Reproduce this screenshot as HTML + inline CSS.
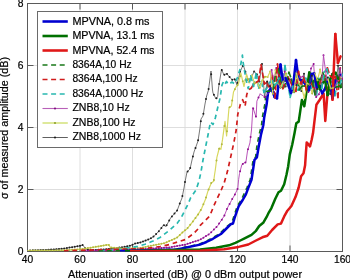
<!DOCTYPE html><html><head><meta charset="utf-8"><style>html,body{margin:0;padding:0;background:#fff;width:350px;height:280px;overflow:hidden}svg{display:block;will-change:transform}text{font-family:"Liberation Sans",sans-serif;fill:#000;stroke:#000;stroke-width:0.2px}</style></head><body><svg width="350" height="280" viewBox="0 0 350 280"><path d="M80.0 3.5V251.5 M132.5 3.5V251.5 M185.0 3.5V251.5 M237.5 3.5V251.5 M290.0 3.5V251.5 M27.5 189.5H342.5 M27.5 127.5H342.5 M27.5 65.5H342.5" stroke="#dadada" stroke-width="0.9" fill="none"/><path d="M80.0 251.5v-6M80.0 3.5v6 M132.5 251.5v-6M132.5 3.5v6 M185.0 251.5v-6M185.0 3.5v6 M237.5 251.5v-6M237.5 3.5v6 M290.0 251.5v-6M290.0 3.5v6 M27.5 189.5h6M342.5 189.5h-6 M27.5 127.5h6M342.5 127.5h-6 M27.5 65.5h6M342.5 65.5h-6" stroke="#5a5a5a" stroke-width="1" fill="none"/><rect x="27.5" y="3.5" width="315" height="248" stroke="#5a5a5a" stroke-width="1" fill="none"/><defs><clipPath id="cp"><rect x="27" y="3" width="316" height="248.6"/></clipPath></defs><g clip-path="url(#cp)" fill="none" stroke-linejoin="round"><path d="M27.5 250.5 L45.0 250.0 L63.0 248.7 L79.2 246.0 L82.8 245.1 L86.4 249.6 L90.0 250.2 L105.2 249.3 L122.3 247.3 L131.0 245.5 L135.0 243.6 L140.0 242.5 L145.0 240.8 L150.0 238.8 L154.0 236.3 L159.5 230.5 L163.5 224.9 L165.9 226.5 L170.8 217.7 L175.0 212.9 L177.1 210.7 L180.0 202.9 L182.0 198.0 L184.0 188.0 L185.0 182.0 L187.0 172.0 L190.0 169.0 L192.0 160.0 L194.0 152.0 L198.0 141.0 L200.0 128.0 L201.0 119.0 L203.0 116.0 L205.0 104.0 L206.6 96.0 L208.5 90.0 L211.0 71.0 L212.5 90.0 L213.0 93.0 L216.0 99.0 L217.7 96.4 L218.5 88.0 L221.5 69.5 L224.0 75.0 L226.5 73.5 L230.0 77.5 L232.5 80.0 L234.5 78.5 L237.0 85.0 L240.0 72.0 L243.2 64.9 L248.9 82.6 L251.5 77.1" stroke="#555555" stroke-width="0.8"/><path d="M30.1 250.4h0M32.8 250.3h0M35.4 250.3h0M38.0 250.2h0M40.6 250.1h0M43.2 250.1h0M45.9 249.9h0M48.5 249.7h0M51.1 249.6h0M53.8 249.4h0M56.4 249.2h0M59.0 249.0h0M61.6 248.8h0M64.2 248.5h0M66.9 248.1h0M69.5 247.6h0M72.1 247.2h0M74.8 246.7h0M77.4 246.3h0M80.0 245.8h0M82.6 245.1h0M85.2 248.2h0M87.9 249.8h0M90.5 250.2h0M93.1 250.0h0M95.8 249.9h0M98.4 249.7h0M101.0 249.5h0M103.6 249.4h0M106.2 249.2h0M108.9 248.9h0M111.5 248.6h0M114.1 248.3h0M116.8 247.9h0M119.4 247.6h0M122.0 247.3h0M124.6 246.8h0M127.2 246.3h0M129.9 245.7h0M132.5 244.8h0M135.1 243.6h0M137.8 243.0h0M140.4 242.4h0M143.0 241.5h0M145.6 240.6h0M148.2 239.5h0M150.9 238.3h0M153.5 236.6h0M156.1 234.1h0M158.8 231.3h0M161.4 227.9h0M164.0 225.2h0M166.6 225.2h0M169.2 220.5h0M171.9 216.5h0M174.5 213.5h0M177.1 210.6h0M179.8 203.6h0M182.4 196.1h0M185.0 182.0h0M187.6 171.4h0M190.2 167.9h0M192.9 156.5h0M195.5 147.9h0M198.1 140.2h0M200.8 121.2h0M203.4 113.8h0M206.0 99.0h0M208.6 89.0h0M211.2 74.2h0M213.9 94.8h0M216.5 98.2h0M219.1 84.1h0M221.8 70.0h0M224.4 74.8h0M227.0 74.1h0M229.6 77.1h0M232.2 79.8h0M234.9 79.5h0M237.5 82.8h0M240.1 71.7h0M242.8 65.9h0M245.4 71.7h0M248.0 79.8h0M250.6 78.9h0" stroke="#202020" stroke-width="2" stroke-linecap="round"/><path d="M27.5 250.5 L63.0 250.3 L81.0 249.2 L90.0 247.8 L98.3 246.4 L108.6 244.7 L110.3 247.3 L122.3 248.5 L140.0 248.0 L150.0 246.0 L165.0 243.0 L177.2 237.5 L183.6 231.4 L186.9 228.9 L190.7 224.3 L193.3 220.9 L198.1 214.4 L201.6 208.6 L205.6 199.0 L208.0 190.9 L211.3 182.9 L213.7 181.3 L214.5 175.0 L215.3 170.0 L216.9 157.4 L219.3 148.0 L220.9 149.3 L222.5 139.7 L225.0 121.4 L226.6 136.0 L229.0 107.7 L231.4 106.1 L233.5 92.0 L236.1 86.8 L238.4 84.2 L240.8 73.0 L244.0 86.5 L246.6 74.3 L249.2 83.0 L251.8 74.8" stroke="#d8d860" stroke-width="1.2"/><path d="M30.1 250.5h0M32.8 250.5h0M35.4 250.5h0M38.0 250.4h0M40.6 250.4h0M43.2 250.4h0M45.9 250.4h0M48.5 250.4h0M51.1 250.4h0M53.8 250.4h0M56.4 250.3h0M59.0 250.3h0M61.6 250.3h0M64.2 250.2h0M66.9 250.1h0M69.5 249.9h0M72.1 249.7h0M74.8 249.6h0M77.4 249.4h0M80.0 249.3h0M82.6 248.9h0M85.2 248.5h0M87.9 248.1h0M90.5 247.7h0M93.1 247.3h0M95.8 246.8h0M98.4 246.4h0M101.0 246.0h0M103.6 245.5h0M106.2 245.1h0M108.9 245.1h0M111.5 247.4h0M114.1 247.7h0M116.8 247.9h0M119.4 248.2h0M122.0 248.5h0M124.6 248.4h0M127.2 248.4h0M129.9 248.3h0M132.5 248.2h0M135.1 248.1h0M137.8 248.1h0M140.4 247.9h0M143.0 247.4h0M145.6 246.9h0M148.2 246.3h0M150.9 245.8h0M153.5 245.3h0M156.1 244.8h0M158.8 244.2h0M161.4 243.7h0M164.0 243.2h0M166.6 242.3h0M169.2 241.1h0M171.9 239.9h0M174.5 238.7h0M177.1 237.5h0M179.8 235.1h0M182.4 232.6h0M185.0 230.3h0M187.6 228.0h0M190.2 224.8h0M192.9 221.5h0M195.5 217.9h0M198.1 214.4h0M200.8 210.0h0M203.4 204.3h0M206.0 197.6h0M208.6 189.4h0M211.2 183.0h0M213.9 179.9h0M216.5 160.6h0M219.1 148.7h0M221.8 144.2h0M224.4 126.0h0M227.0 131.3h0M229.6 107.3h0M232.2 100.4h0M234.9 89.3h0M237.5 85.2h0M240.1 76.2h0M242.8 81.3h0M245.4 80.0h0M248.0 79.0h0M250.6 78.7h0" stroke="#b0b840" stroke-width="2" stroke-linecap="round"/><path d="M85.0 250.8 L110.0 250.3 L145.0 249.0 L169.2 247.4 L185.3 244.6 L193.3 242.0 L200.0 239.8 L203.2 237.8 L209.7 233.8 L217.7 225.7 L224.2 216.0 L227.4 208.0 L231.4 200.6 L234.6 195.0 L237.8 188.5 L238.6 179.7 L239.5 173.5 L241.9 164.6 L244.0 163.0 L245.9 162.2 L247.5 151.0 L249.9 142.9 L251.5 130.0 L252.9 107.5 L256.1 117.2 L256.9 101.1 L260.1 93.9" stroke="#b040b0" stroke-width="0.9"/><path d="M85.2 250.8h0M87.9 250.7h0M90.5 250.7h0M93.1 250.6h0M95.8 250.6h0M98.4 250.5h0M101.0 250.5h0M103.6 250.4h0M106.2 250.4h0M108.9 250.3h0M111.5 250.2h0M114.1 250.1h0M116.8 250.0h0M119.4 250.0h0M122.0 249.9h0M124.6 249.8h0M127.2 249.7h0M129.9 249.6h0M132.5 249.5h0M135.1 249.4h0M137.8 249.3h0M140.4 249.2h0M143.0 249.1h0M145.6 249.0h0M148.2 248.8h0M150.9 248.6h0M153.5 248.4h0M156.1 248.3h0M158.8 248.1h0M161.4 247.9h0M164.0 247.7h0M166.6 247.6h0M169.2 247.4h0M171.9 246.9h0M174.5 246.5h0M177.1 246.0h0M179.8 245.6h0M182.4 245.1h0M185.0 244.7h0M187.6 243.8h0M190.2 243.0h0M192.9 242.1h0M195.5 241.3h0M198.1 240.4h0M200.8 239.3h0M203.4 237.7h0M206.0 236.1h0M208.6 234.5h0M211.2 232.2h0M213.9 229.6h0M216.5 226.9h0M219.1 223.6h0M221.8 219.7h0M224.4 215.6h0M227.0 209.0h0M229.6 203.9h0M232.2 199.1h0M234.9 194.4h0M237.5 189.1h0M240.1 171.2h0M242.8 164.0h0M245.4 162.4h0M248.0 149.3h0M250.6 137.1h0M253.2 108.6h0M255.9 116.5h0M258.5 97.5h0" stroke="#901090" stroke-width="2" stroke-linecap="round"/><path d="M100.0 250.8 L115.0 250.0 L130.9 247.5 L137.7 246.4 L145.0 244.2 L153.0 241.0 L160.0 237.5 L169.2 230.5 L177.2 223.3 L181.2 217.7 L184.5 211.2 L188.6 202.9 L190.5 198.0 L196.0 190.0 L199.0 181.0 L201.0 172.0 L203.0 160.0 L205.0 150.0 L208.0 135.0 L210.5 122.0 L213.0 124.5 L215.3 118.0 L217.7 107.7 L220.1 98.0 L222.0 85.0 L223.5 81.5 L225.0 84.0 L226.5 81.5 L228.5 84.5 L232.0 82.0 L234.6 84.0 L237.2 78.0 L239.8 70.0 L242.4 55.2 L243.0 61.7 L245.6 77.3 L248.2 88.6 L250.8 75.9" stroke="#28b8b0" stroke-width="1.7" stroke-dasharray="4.6 3.8"/><path d="M64.0 250.8 L145.0 248.5 L160.0 246.5 L169.2 244.6 L185.3 239.6 L193.3 233.8 L198.1 228.9 L200.0 225.7 L204.8 220.9 L209.7 216.0 L213.7 206.2 L216.9 199.0 L220.9 190.9 L224.2 182.9 L227.4 171.6 L230.6 157.4 L233.8 142.9 L236.2 130.0 L237.8 114.2 L240.3 104.5 L242.7 99.7 L245.1 106.1 L246.7 94.8 L248.3 90.0 L251.3 88.2" stroke="#d01c1c" stroke-width="1.7" stroke-dasharray="4.6 3.8"/><path d="M98.7 251.1 L175.7 249.3 L198.7 244.4 L205.1 241.6 L211.6 238.4 L219.6 233.6 L226.1 227.1 L231.7 223.0 L237.3 206.0 L241.4 199.6 L247.0 187.5 L250.2 179.5 L253.2 159.5 L255.6 157.0 L256.7 147.5 L259.1 134.7 L261.5 125.0 L262.4 117.2 L264.8 104.3 L266.4 91.4" stroke="#187818" stroke-width="1.6" stroke-dasharray="4.6 3.8"/><path d="M120.0 251.2 L177.0 249.5 L200.0 244.6 L206.4 242.0 L212.9 238.8 L220.9 234.0 L227.4 227.5 L230.6 224.3 L233.0 223.5 L234.6 217.9 L238.6 206.4 L242.7 200.0 L245.9 194.4 L248.3 187.9 L251.5 179.9 L253.0 170.0 L254.5 159.8 L256.9 157.4 L258.5 147.7 L260.9 134.9 L263.3 125.2 L264.2 117.4 L266.6 104.5 L268.2 91.6" stroke="#0000d0" stroke-width="2.5"/><path d="M125.0 251.3 L200.0 249.6 L216.1 247.8 L229.0 245.3 L235.4 242.9 L240.3 240.5 L245.1 238.1 L251.5 234.9 L256.0 230.8 L259.2 226.0 L263.2 222.8 L266.5 217.2 L268.9 212.3 L271.3 208.3 L275.3 198.7 L278.5 192.3 L281.0 190.7 L284.2 184.2 L286.6 174.2 L288.2 166.2 L289.8 154.4 L292.2 144.7 L294.5 133.2 L296.3 123.2 L298.7 121.6 L301.9 99.9 L304.3 106.3 L306.7 90.2" stroke="#007000" stroke-width="2.5"/><path d="M130.0 251.2 L200.0 250.8 L224.2 249.3 L238.6 246.9 L248.3 244.5 L256.0 240.5 L262.4 237.3 L267.3 235.7 L272.1 230.0 L277.7 224.4 L281.0 223.6 L284.2 216.4 L287.4 210.7 L289.5 208.3 L291.4 206.0 L295.5 197.1 L298.7 187.5 L301.1 176.3 L303.5 173.3 L305.1 165.3 L305.9 152.8 L306.7 142.4 L310.0 146.4 L311.6 140.0 L313.0 133.3 L316.4 104.8 L319.6 100.0 L323.6 93.5 L325.3 120.9 L327.7 90.3" stroke="#e01818" stroke-width="2.5"/><path d="M300.7 83.8L303.4 78.4" stroke="#28b8b0" stroke-width="1.7" stroke-linecap="round" stroke-dasharray="4.6 3.8"/><path d="M301.4 90.9L304.0 73.8" stroke="#555555" stroke-width="0.8" stroke-linecap="round"/><path d="M304.0 73.8h0" stroke="#202020" stroke-width="2" stroke-linecap="round"/><path d="M269.9 86.3L272.5 82.1" stroke="#555555" stroke-width="0.8" stroke-linecap="round"/><path d="M272.5 82.1h0" stroke="#202020" stroke-width="2" stroke-linecap="round"/><path d="M317.5 80.3L320.1 69.6" stroke="#d8d860" stroke-width="1.2" stroke-linecap="round"/><path d="M320.1 69.6h0" stroke="#b0b840" stroke-width="2" stroke-linecap="round"/><path d="M316.9 87.4L319.5 85.8" stroke="#0000d0" stroke-width="2.5" stroke-linecap="round"/><path d="M256.8 74.2L259.4 81.4" stroke="#555555" stroke-width="0.8" stroke-linecap="round"/><path d="M259.4 81.4h0" stroke="#202020" stroke-width="2" stroke-linecap="round"/><path d="M329.4 80.0L332.0 73.9" stroke="#b040b0" stroke-width="0.9" stroke-linecap="round"/><path d="M332.0 73.9h0" stroke="#901090" stroke-width="2" stroke-linecap="round"/><path d="M297.9 82.4L300.5 77.2" stroke="#b040b0" stroke-width="0.9" stroke-linecap="round"/><path d="M300.5 77.2h0" stroke="#901090" stroke-width="2" stroke-linecap="round"/><path d="M328.2 87.7L330.9 91.2" stroke="#187818" stroke-width="1.6" stroke-linecap="round" stroke-dasharray="4.6 3.8"/><path d="M272.3 75.2L274.9 98.0" stroke="#d01c1c" stroke-width="1.7" stroke-linecap="round" stroke-dasharray="4.6 3.8"/><path d="M322.4 83.0L325.1 80.6" stroke="#007000" stroke-width="2.5" stroke-linecap="round"/><path d="M306.0 78.3L308.6 83.5" stroke="#28b8b0" stroke-width="1.7" stroke-linecap="round" stroke-dasharray="4.6 3.8"/><path d="M330.3 81.9L332.5 99.7" stroke="#e01818" stroke-width="2.5" stroke-linecap="round"/><path d="M332.0 73.9L334.6 87.1" stroke="#b040b0" stroke-width="0.9" stroke-linecap="round"/><path d="M334.6 87.1h0" stroke="#901090" stroke-width="2" stroke-linecap="round"/><path d="M253.9 83.5L256.5 82.3" stroke="#d01c1c" stroke-width="1.7" stroke-linecap="round" stroke-dasharray="4.6 3.8"/><path d="M292.9 86.2L295.5 72.8" stroke="#28b8b0" stroke-width="1.7" stroke-linecap="round" stroke-dasharray="4.6 3.8"/><path d="M324.8 79.9L327.4 67.9" stroke="#d01c1c" stroke-width="1.7" stroke-linecap="round" stroke-dasharray="4.6 3.8"/><path d="M300.5 77.2L303.1 76.4" stroke="#b040b0" stroke-width="0.9" stroke-linecap="round"/><path d="M303.1 76.4h0" stroke="#901090" stroke-width="2" stroke-linecap="round"/><path d="M335.2 80.5L337.9 77.0" stroke="#0000d0" stroke-width="2.5" stroke-linecap="round"/><path d="M330.3 79.0L332.9 73.7" stroke="#007000" stroke-width="2.5" stroke-linecap="round"/><path d="M254.5 83.5L257.1 82.0" stroke="#d8d860" stroke-width="1.2" stroke-linecap="round"/><path d="M257.1 82.0h0" stroke="#b0b840" stroke-width="2" stroke-linecap="round"/><path d="M285.4 81.0L288.0 77.0" stroke="#d01c1c" stroke-width="1.7" stroke-linecap="round" stroke-dasharray="4.6 3.8"/><path d="M335.3 76.8L337.9 97.5" stroke="#d01c1c" stroke-width="1.7" stroke-linecap="round" stroke-dasharray="4.6 3.8"/><path d="M290.0 79.6L292.6 89.3" stroke="#b040b0" stroke-width="0.9" stroke-linecap="round"/><path d="M292.6 89.3h0" stroke="#901090" stroke-width="2" stroke-linecap="round"/><path d="M285.0 65.5L287.6 82.2" stroke="#28b8b0" stroke-width="1.7" stroke-linecap="round" stroke-dasharray="4.6 3.8"/><path d="M316.2 97.1L318.9 94.3" stroke="#b040b0" stroke-width="0.9" stroke-linecap="round"/><path d="M318.9 94.3h0" stroke="#901090" stroke-width="2" stroke-linecap="round"/><path d="M314.3 90.2L316.9 80.0" stroke="#d01c1c" stroke-width="1.7" stroke-linecap="round" stroke-dasharray="4.6 3.8"/><path d="M295.5 72.8L298.1 90.1" stroke="#28b8b0" stroke-width="1.7" stroke-linecap="round" stroke-dasharray="4.6 3.8"/><path d="M296.1 85.1L298.8 85.1" stroke="#555555" stroke-width="0.8" stroke-linecap="round"/><path d="M298.8 85.1h0" stroke="#202020" stroke-width="2" stroke-linecap="round"/><path d="M313.9 81.9L316.5 94.8" stroke="#28b8b0" stroke-width="1.7" stroke-linecap="round" stroke-dasharray="4.6 3.8"/><path d="M259.4 81.4L262.0 64.0" stroke="#555555" stroke-width="0.8" stroke-linecap="round"/><path d="M262.0 64.0h0" stroke="#202020" stroke-width="2" stroke-linecap="round"/><path d="M304.6 85.9L307.2 87.9" stroke="#187818" stroke-width="1.6" stroke-linecap="round" stroke-dasharray="4.6 3.8"/><path d="M317.1 89.1L319.8 82.8" stroke="#555555" stroke-width="0.8" stroke-linecap="round"/><path d="M319.8 82.8h0" stroke="#202020" stroke-width="2" stroke-linecap="round"/><path d="M311.6 74.0L314.2 73.4" stroke="#0000d0" stroke-width="2.5" stroke-linecap="round"/><path d="M298.1 90.1L300.7 83.8" stroke="#28b8b0" stroke-width="1.7" stroke-linecap="round" stroke-dasharray="4.6 3.8"/><path d="M269.6 90.2L272.3 75.2" stroke="#d01c1c" stroke-width="1.7" stroke-linecap="round" stroke-dasharray="4.6 3.8"/><path d="M325.4 77.7L328.0 79.0" stroke="#d8d860" stroke-width="1.2" stroke-linecap="round"/><path d="M328.0 79.0h0" stroke="#b0b840" stroke-width="2" stroke-linecap="round"/><path d="M335.9 86.0L338.5 80.7" stroke="#d8d860" stroke-width="1.2" stroke-linecap="round"/><path d="M338.5 80.7h0" stroke="#b0b840" stroke-width="2" stroke-linecap="round"/><path d="M312.2 93.6L314.9 73.4" stroke="#d8d860" stroke-width="1.2" stroke-linecap="round"/><path d="M314.9 73.4h0" stroke="#b0b840" stroke-width="2" stroke-linecap="round"/><path d="M337.5 80.3L340.1 84.6" stroke="#28b8b0" stroke-width="1.7" stroke-linecap="round" stroke-dasharray="4.6 3.8"/><path d="M327.4 67.9L330.0 75.7" stroke="#d01c1c" stroke-width="1.7" stroke-linecap="round" stroke-dasharray="4.6 3.8"/><path d="M276.3 68.1L279.5 81.1" stroke="#b040b0" stroke-width="0.9" stroke-linecap="round"/><path d="M279.5 81.1h0" stroke="#901090" stroke-width="2" stroke-linecap="round"/><path d="M251.5 77.1L254.1 71.5" stroke="#555555" stroke-width="0.8" stroke-linecap="round"/><path d="M254.1 71.5h0" stroke="#202020" stroke-width="2" stroke-linecap="round"/><path d="M337.9 77.0L340.5 74.5" stroke="#0000d0" stroke-width="2.5" stroke-linecap="round"/><path d="M294.1 92.5L296.8 72.8" stroke="#187818" stroke-width="1.6" stroke-linecap="round" stroke-dasharray="4.6 3.8"/><path d="M283.0 82.0L285.5 78.0" stroke="#0000d0" stroke-width="2.5" stroke-linecap="round"/><path d="M269.0 92.2L271.6 69.9" stroke="#b040b0" stroke-width="0.9" stroke-linecap="round"/><path d="M271.6 69.9h0" stroke="#901090" stroke-width="2" stroke-linecap="round"/><path d="M283.0 87.3L285.6 86.4" stroke="#555555" stroke-width="0.8" stroke-linecap="round"/><path d="M285.6 86.4h0" stroke="#202020" stroke-width="2" stroke-linecap="round"/><path d="M308.4 92.1L311.0 68.6" stroke="#b040b0" stroke-width="0.9" stroke-linecap="round"/><path d="M311.0 68.6h0" stroke="#901090" stroke-width="2" stroke-linecap="round"/><path d="M334.9 95.6L337.5 80.3" stroke="#28b8b0" stroke-width="1.7" stroke-linecap="round" stroke-dasharray="4.6 3.8"/><path d="M320.1 69.6L322.7 80.3" stroke="#d8d860" stroke-width="1.2" stroke-linecap="round"/><path d="M322.7 80.3h0" stroke="#b0b840" stroke-width="2" stroke-linecap="round"/><path d="M338.2 78.8L340.8 87.1" stroke="#007000" stroke-width="2.5" stroke-linecap="round"/><path d="M264.4 83.8L267.0 82.4" stroke="#d01c1c" stroke-width="1.7" stroke-linecap="round" stroke-dasharray="4.6 3.8"/><path d="M290.6 82.1L293.3 87.5" stroke="#d01c1c" stroke-width="1.7" stroke-linecap="round" stroke-dasharray="4.6 3.8"/><path d="M256.1 73.9L258.7 88.0" stroke="#28b8b0" stroke-width="1.7" stroke-linecap="round" stroke-dasharray="4.6 3.8"/><path d="M277.0 98.3L280.5 64.5" stroke="#0000d0" stroke-width="2.5" stroke-linecap="round"/><path d="M298.8 85.1L301.4 90.9" stroke="#555555" stroke-width="0.8" stroke-linecap="round"/><path d="M301.4 90.9h0" stroke="#202020" stroke-width="2" stroke-linecap="round"/><path d="M307.2 87.9L309.9 78.7" stroke="#187818" stroke-width="1.6" stroke-linecap="round" stroke-dasharray="4.6 3.8"/><path d="M306.4 90.0L309.0 78.7" stroke="#d01c1c" stroke-width="1.7" stroke-linecap="round" stroke-dasharray="4.6 3.8"/><path d="M320.4 79.6L323.0 72.7" stroke="#187818" stroke-width="1.6" stroke-linecap="round" stroke-dasharray="4.6 3.8"/><path d="M272.9 93.7L275.5 70.0" stroke="#d8d860" stroke-width="1.2" stroke-linecap="round"/><path d="M275.5 70.0h0" stroke="#b0b840" stroke-width="2" stroke-linecap="round"/><path d="M338.5 80.7L341.1 78.5" stroke="#d8d860" stroke-width="1.2" stroke-linecap="round"/><path d="M341.1 78.5h0" stroke="#b0b840" stroke-width="2" stroke-linecap="round"/><path d="M319.8 82.8L322.4 75.5" stroke="#555555" stroke-width="0.8" stroke-linecap="round"/><path d="M322.4 75.5h0" stroke="#202020" stroke-width="2" stroke-linecap="round"/><path d="M265.0 97.1L269.0 92.2" stroke="#b040b0" stroke-width="0.9" stroke-linecap="round"/><path d="M269.0 92.2h0" stroke="#901090" stroke-width="2" stroke-linecap="round"/><path d="M314.6 80.6L317.2 79.1" stroke="#007000" stroke-width="2.5" stroke-linecap="round"/><path d="M274.2 80.8L276.3 68.1" stroke="#b040b0" stroke-width="0.9" stroke-linecap="round"/><path d="M276.3 68.1h0" stroke="#901090" stroke-width="2" stroke-linecap="round"/><path d="M293.5 83.3L296.1 85.1" stroke="#555555" stroke-width="0.8" stroke-linecap="round"/><path d="M296.1 85.1h0" stroke="#202020" stroke-width="2" stroke-linecap="round"/><path d="M322.7 80.3L325.4 77.7" stroke="#d8d860" stroke-width="1.2" stroke-linecap="round"/><path d="M325.4 77.7h0" stroke="#b0b840" stroke-width="2" stroke-linecap="round"/><path d="M303.7 82.0L306.4 85.8" stroke="#0000d0" stroke-width="2.5" stroke-linecap="round"/><path d="M287.4 80.7L290.0 79.6" stroke="#b040b0" stroke-width="0.9" stroke-linecap="round"/><path d="M290.0 79.6h0" stroke="#901090" stroke-width="2" stroke-linecap="round"/><path d="M282.4 86.8L285.0 65.5" stroke="#28b8b0" stroke-width="1.7" stroke-linecap="round" stroke-dasharray="4.6 3.8"/><path d="M272.5 82.1L275.1 87.9" stroke="#555555" stroke-width="0.8" stroke-linecap="round"/><path d="M275.1 87.9h0" stroke="#202020" stroke-width="2" stroke-linecap="round"/><path d="M311.9 84.1L314.6 80.6" stroke="#007000" stroke-width="2.5" stroke-linecap="round"/><path d="M302.0 86.2L304.6 85.9" stroke="#187818" stroke-width="1.6" stroke-linecap="round" stroke-dasharray="4.6 3.8"/><path d="M284.7 71.6L287.4 80.7" stroke="#b040b0" stroke-width="0.9" stroke-linecap="round"/><path d="M287.4 80.7h0" stroke="#901090" stroke-width="2" stroke-linecap="round"/><path d="M333.5 87.0L336.1 86.9" stroke="#187818" stroke-width="1.6" stroke-linecap="round" stroke-dasharray="4.6 3.8"/><path d="M318.9 94.3L321.5 87.4" stroke="#b040b0" stroke-width="0.9" stroke-linecap="round"/><path d="M321.5 87.4h0" stroke="#901090" stroke-width="2" stroke-linecap="round"/><path d="M275.8 72.9L278.4 68.9" stroke="#187818" stroke-width="1.6" stroke-linecap="round" stroke-dasharray="4.6 3.8"/><path d="M316.5 94.8L319.1 78.3" stroke="#28b8b0" stroke-width="1.7" stroke-linecap="round" stroke-dasharray="4.6 3.8"/><path d="M315.1 95.1L317.8 79.8" stroke="#187818" stroke-width="1.6" stroke-linecap="round" stroke-dasharray="4.6 3.8"/><path d="M280.1 82.9L282.8 88.8" stroke="#d01c1c" stroke-width="1.7" stroke-linecap="round" stroke-dasharray="4.6 3.8"/><path d="M319.1 78.3L321.7 88.5" stroke="#28b8b0" stroke-width="1.7" stroke-linecap="round" stroke-dasharray="4.6 3.8"/><path d="M296.8 72.8L299.4 89.8" stroke="#187818" stroke-width="1.6" stroke-linecap="round" stroke-dasharray="4.6 3.8"/><path d="M313.6 64.0L316.2 97.1" stroke="#b040b0" stroke-width="0.9" stroke-linecap="round"/><path d="M316.2 97.1h0" stroke="#901090" stroke-width="2" stroke-linecap="round"/><path d="M324.4 71.9L327.0 69.2" stroke="#28b8b0" stroke-width="1.7" stroke-linecap="round" stroke-dasharray="4.6 3.8"/><path d="M337.9 97.5L340.5 65.2" stroke="#d01c1c" stroke-width="1.7" stroke-linecap="round" stroke-dasharray="4.6 3.8"/><path d="M303.1 76.4L305.7 82.4" stroke="#b040b0" stroke-width="0.9" stroke-linecap="round"/><path d="M305.7 82.4h0" stroke="#901090" stroke-width="2" stroke-linecap="round"/><path d="M265.0 76.7L267.6 76.9" stroke="#d8d860" stroke-width="1.2" stroke-linecap="round"/><path d="M267.6 76.9h0" stroke="#b0b840" stroke-width="2" stroke-linecap="round"/><path d="M268.2 91.6L271.4 88.4" stroke="#0000d0" stroke-width="2.5" stroke-linecap="round"/><path d="M309.6 84.6L312.2 93.6" stroke="#d8d860" stroke-width="1.2" stroke-linecap="round"/><path d="M312.2 93.6h0" stroke="#b0b840" stroke-width="2" stroke-linecap="round"/><path d="M306.4 85.8L309.0 90.2" stroke="#0000d0" stroke-width="2.5" stroke-linecap="round"/><path d="M337.2 81.2L339.9 68.5" stroke="#b040b0" stroke-width="0.9" stroke-linecap="round"/><path d="M339.9 68.5h0" stroke="#901090" stroke-width="2" stroke-linecap="round"/><path d="M262.0 64.0L264.6 97.2" stroke="#555555" stroke-width="0.8" stroke-linecap="round"/><path d="M264.6 97.2h0" stroke="#202020" stroke-width="2" stroke-linecap="round"/><path d="M288.0 77.0L290.6 82.1" stroke="#d01c1c" stroke-width="1.7" stroke-linecap="round" stroke-dasharray="4.6 3.8"/><path d="M280.4 87.4L283.0 87.3" stroke="#555555" stroke-width="0.8" stroke-linecap="round"/><path d="M283.0 87.3h0" stroke="#202020" stroke-width="2" stroke-linecap="round"/><path d="M330.9 91.2L333.5 87.0" stroke="#187818" stroke-width="1.6" stroke-linecap="round" stroke-dasharray="4.6 3.8"/><path d="M286.0 73.4L288.6 85.6" stroke="#d8d860" stroke-width="1.2" stroke-linecap="round"/><path d="M288.6 85.6h0" stroke="#b0b840" stroke-width="2" stroke-linecap="round"/><path d="M327.0 69.2L329.6 81.9" stroke="#28b8b0" stroke-width="1.7" stroke-linecap="round" stroke-dasharray="4.6 3.8"/><path d="M291.2 92.6L293.9 91.8" stroke="#d8d860" stroke-width="1.2" stroke-linecap="round"/><path d="M293.9 91.8h0" stroke="#b0b840" stroke-width="2" stroke-linecap="round"/><path d="M258.7 88.0L261.4 81.9" stroke="#28b8b0" stroke-width="1.7" stroke-linecap="round" stroke-dasharray="4.6 3.8"/><path d="M332.2 84.5L334.9 95.6" stroke="#28b8b0" stroke-width="1.7" stroke-linecap="round" stroke-dasharray="4.6 3.8"/><path d="M322.1 93.2L324.7 89.4" stroke="#0000d0" stroke-width="2.5" stroke-linecap="round"/><path d="M288.6 85.6L291.2 92.6" stroke="#d8d860" stroke-width="1.2" stroke-linecap="round"/><path d="M291.2 92.6h0" stroke="#b0b840" stroke-width="2" stroke-linecap="round"/><path d="M322.4 75.5L325.0 79.3" stroke="#555555" stroke-width="0.8" stroke-linecap="round"/><path d="M325.0 79.3h0" stroke="#202020" stroke-width="2" stroke-linecap="round"/><path d="M332.6 78.1L335.3 76.8" stroke="#d01c1c" stroke-width="1.7" stroke-linecap="round" stroke-dasharray="4.6 3.8"/><path d="M267.2 81.5L269.9 86.3" stroke="#555555" stroke-width="0.8" stroke-linecap="round"/><path d="M269.9 86.3h0" stroke="#202020" stroke-width="2" stroke-linecap="round"/><path d="M271.9 80.5L274.5 85.8" stroke="#28b8b0" stroke-width="1.7" stroke-linecap="round" stroke-dasharray="4.6 3.8"/><path d="M279.5 81.1L282.1 83.6" stroke="#b040b0" stroke-width="0.9" stroke-linecap="round"/><path d="M282.1 83.6h0" stroke="#901090" stroke-width="2" stroke-linecap="round"/><path d="M324.7 89.4L327.4 81.8" stroke="#0000d0" stroke-width="2.5" stroke-linecap="round"/><path d="M281.0 81.8L283.6 87.8" stroke="#187818" stroke-width="1.6" stroke-linecap="round" stroke-dasharray="4.6 3.8"/><path d="M325.1 80.6L327.7 95.1" stroke="#007000" stroke-width="2.5" stroke-linecap="round"/><path d="M266.4 91.4L270.5 91.0" stroke="#187818" stroke-width="1.6" stroke-linecap="round" stroke-dasharray="4.6 3.8"/><path d="M314.2 73.4L316.9 87.4" stroke="#0000d0" stroke-width="2.5" stroke-linecap="round"/><path d="M311.9 75.7L314.5 91.7" stroke="#555555" stroke-width="0.8" stroke-linecap="round"/><path d="M314.5 91.7h0" stroke="#202020" stroke-width="2" stroke-linecap="round"/><path d="M283.4 81.6L286.0 73.4" stroke="#d8d860" stroke-width="1.2" stroke-linecap="round"/><path d="M286.0 73.4h0" stroke="#b0b840" stroke-width="2" stroke-linecap="round"/><path d="M269.2 82.9L271.9 80.5" stroke="#28b8b0" stroke-width="1.7" stroke-linecap="round" stroke-dasharray="4.6 3.8"/><path d="M279.7 76.5L282.4 86.8" stroke="#28b8b0" stroke-width="1.7" stroke-linecap="round" stroke-dasharray="4.6 3.8"/><path d="M290.9 90.9L293.5 83.3" stroke="#555555" stroke-width="0.8" stroke-linecap="round"/><path d="M293.5 83.3h0" stroke="#202020" stroke-width="2" stroke-linecap="round"/><path d="M277.5 64.0L280.1 82.9" stroke="#d01c1c" stroke-width="1.7" stroke-linecap="round" stroke-dasharray="4.6 3.8"/><path d="M322.1 76.4L324.8 79.9" stroke="#d01c1c" stroke-width="1.7" stroke-linecap="round" stroke-dasharray="4.6 3.8"/><path d="M327.6 77.6L330.2 93.9" stroke="#555555" stroke-width="0.8" stroke-linecap="round"/><path d="M330.2 93.9h0" stroke="#202020" stroke-width="2" stroke-linecap="round"/><path d="M261.4 81.9L264.0 92.4" stroke="#28b8b0" stroke-width="1.7" stroke-linecap="round" stroke-dasharray="4.6 3.8"/><path d="M335.6 72.9L338.2 78.8" stroke="#007000" stroke-width="2.5" stroke-linecap="round"/><path d="M319.8 89.3L322.4 83.0" stroke="#007000" stroke-width="2.5" stroke-linecap="round"/><path d="M267.6 76.9L270.2 71.5" stroke="#d8d860" stroke-width="1.2" stroke-linecap="round"/><path d="M270.2 71.5h0" stroke="#b0b840" stroke-width="2" stroke-linecap="round"/><path d="M271.6 69.9L274.2 80.8" stroke="#b040b0" stroke-width="0.9" stroke-linecap="round"/><path d="M274.2 80.8h0" stroke="#901090" stroke-width="2" stroke-linecap="round"/><path d="M287.6 82.2L290.2 97.3" stroke="#28b8b0" stroke-width="1.7" stroke-linecap="round" stroke-dasharray="4.6 3.8"/><path d="M301.7 88.3L304.4 98.0" stroke="#d8d860" stroke-width="1.2" stroke-linecap="round"/><path d="M304.4 98.0h0" stroke="#b0b840" stroke-width="2" stroke-linecap="round"/><path d="M259.7 87.8L262.4 80.3" stroke="#d8d860" stroke-width="1.2" stroke-linecap="round"/><path d="M262.4 80.3h0" stroke="#b0b840" stroke-width="2" stroke-linecap="round"/><path d="M309.3 72.4L311.9 84.1" stroke="#007000" stroke-width="2.5" stroke-linecap="round"/><path d="M270.5 91.0L273.1 89.3" stroke="#187818" stroke-width="1.6" stroke-linecap="round" stroke-dasharray="4.6 3.8"/><path d="M278.1 83.0L280.7 87.6" stroke="#d8d860" stroke-width="1.2" stroke-linecap="round"/><path d="M280.7 87.6h0" stroke="#b0b840" stroke-width="2" stroke-linecap="round"/><path d="M282.1 83.6L284.7 71.6" stroke="#b040b0" stroke-width="0.9" stroke-linecap="round"/><path d="M284.7 71.6h0" stroke="#901090" stroke-width="2" stroke-linecap="round"/><path d="M316.9 80.0L319.5 83.9" stroke="#d01c1c" stroke-width="1.7" stroke-linecap="round" stroke-dasharray="4.6 3.8"/><path d="M330.2 93.9L332.9 75.7" stroke="#555555" stroke-width="0.8" stroke-linecap="round"/><path d="M332.9 75.7h0" stroke="#202020" stroke-width="2" stroke-linecap="round"/><path d="M314.5 91.7L317.1 89.1" stroke="#555555" stroke-width="0.8" stroke-linecap="round"/><path d="M317.1 89.1h0" stroke="#202020" stroke-width="2" stroke-linecap="round"/><path d="M332.9 75.7L335.5 87.0" stroke="#555555" stroke-width="0.8" stroke-linecap="round"/><path d="M335.5 87.0h0" stroke="#202020" stroke-width="2" stroke-linecap="round"/><path d="M266.6 88.4L269.2 82.9" stroke="#28b8b0" stroke-width="1.7" stroke-linecap="round" stroke-dasharray="4.6 3.8"/><path d="M298.5 78.9L301.0 80.0" stroke="#0000d0" stroke-width="2.5" stroke-linecap="round"/><path d="M291.5 79.0L294.1 92.5" stroke="#187818" stroke-width="1.6" stroke-linecap="round" stroke-dasharray="4.6 3.8"/><path d="M293.3 87.5L295.9 91.4" stroke="#d01c1c" stroke-width="1.7" stroke-linecap="round" stroke-dasharray="4.6 3.8"/><path d="M330.0 75.7L332.6 78.1" stroke="#d01c1c" stroke-width="1.7" stroke-linecap="round" stroke-dasharray="4.6 3.8"/><path d="M321.5 87.4L323.5 55.3" stroke="#b040b0" stroke-width="0.9" stroke-linecap="round"/><path d="M323.5 55.3h0" stroke="#901090" stroke-width="2" stroke-linecap="round"/><path d="M335.5 87.0L338.1 65.7" stroke="#555555" stroke-width="0.8" stroke-linecap="round"/><path d="M338.1 65.7h0" stroke="#202020" stroke-width="2" stroke-linecap="round"/><path d="M298.5 71.4L301.1 84.0" stroke="#d01c1c" stroke-width="1.7" stroke-linecap="round" stroke-dasharray="4.6 3.8"/><path d="M267.0 82.4L269.6 90.2" stroke="#d01c1c" stroke-width="1.7" stroke-linecap="round" stroke-dasharray="4.6 3.8"/><path d="M333.2 87.8L335.9 86.0" stroke="#d8d860" stroke-width="1.2" stroke-linecap="round"/><path d="M335.9 86.0h0" stroke="#b0b840" stroke-width="2" stroke-linecap="round"/><path d="M274.6 97.0L277.0 98.3" stroke="#0000d0" stroke-width="2.5" stroke-linecap="round"/><path d="M301.0 80.0L303.7 82.0" stroke="#0000d0" stroke-width="2.5" stroke-linecap="round"/><path d="M288.2 79.1L290.9 90.9" stroke="#555555" stroke-width="0.8" stroke-linecap="round"/><path d="M290.9 90.9h0" stroke="#202020" stroke-width="2" stroke-linecap="round"/><path d="M332.6 98.0L335.2 80.5" stroke="#0000d0" stroke-width="2.5" stroke-linecap="round"/><path d="M336.1 86.9L338.8 86.6" stroke="#187818" stroke-width="1.6" stroke-linecap="round" stroke-dasharray="4.6 3.8"/><path d="M251.3 88.2L253.9 83.5" stroke="#d01c1c" stroke-width="1.7" stroke-linecap="round" stroke-dasharray="4.6 3.8"/><path d="M332.9 73.7L335.6 72.9" stroke="#007000" stroke-width="2.5" stroke-linecap="round"/><path d="M305.7 82.4L308.4 92.1" stroke="#b040b0" stroke-width="0.9" stroke-linecap="round"/><path d="M308.4 92.1h0" stroke="#901090" stroke-width="2" stroke-linecap="round"/><path d="M335.3 33.9L337.9 63.0" stroke="#e01818" stroke-width="2.5" stroke-linecap="round"/><path d="M325.6 79.2L328.2 87.7" stroke="#187818" stroke-width="1.6" stroke-linecap="round" stroke-dasharray="4.6 3.8"/><path d="M292.6 89.3L295.2 83.7" stroke="#b040b0" stroke-width="0.9" stroke-linecap="round"/><path d="M295.2 83.7h0" stroke="#901090" stroke-width="2" stroke-linecap="round"/><path d="M257.1 82.0L259.7 87.8" stroke="#d8d860" stroke-width="1.2" stroke-linecap="round"/><path d="M259.7 87.8h0" stroke="#b0b840" stroke-width="2" stroke-linecap="round"/><path d="M271.4 88.4L274.6 97.0" stroke="#0000d0" stroke-width="2.5" stroke-linecap="round"/><path d="M323.0 72.7L325.6 79.2" stroke="#187818" stroke-width="1.6" stroke-linecap="round" stroke-dasharray="4.6 3.8"/><path d="M327.4 81.8L330.0 80.6" stroke="#0000d0" stroke-width="2.5" stroke-linecap="round"/><path d="M330.0 80.6L332.6 98.0" stroke="#0000d0" stroke-width="2.5" stroke-linecap="round"/><path d="M311.2 88.4L313.9 81.9" stroke="#28b8b0" stroke-width="1.7" stroke-linecap="round" stroke-dasharray="4.6 3.8"/><path d="M275.5 70.0L278.1 83.0" stroke="#d8d860" stroke-width="1.2" stroke-linecap="round"/><path d="M278.1 83.0h0" stroke="#b0b840" stroke-width="2" stroke-linecap="round"/><path d="M264.6 97.2L267.2 81.5" stroke="#555555" stroke-width="0.8" stroke-linecap="round"/><path d="M267.2 81.5h0" stroke="#202020" stroke-width="2" stroke-linecap="round"/><path d="M325.0 79.3L327.6 77.6" stroke="#555555" stroke-width="0.8" stroke-linecap="round"/><path d="M327.6 77.6h0" stroke="#202020" stroke-width="2" stroke-linecap="round"/><path d="M275.1 87.9L277.8 79.9" stroke="#555555" stroke-width="0.8" stroke-linecap="round"/><path d="M277.8 79.9h0" stroke="#202020" stroke-width="2" stroke-linecap="round"/><path d="M278.4 68.9L281.0 81.8" stroke="#187818" stroke-width="1.6" stroke-linecap="round" stroke-dasharray="4.6 3.8"/><path d="M293.2 85.1L296.0 60.0" stroke="#0000d0" stroke-width="2.5" stroke-linecap="round"/><path d="M329.6 81.9L332.2 84.5" stroke="#28b8b0" stroke-width="1.7" stroke-linecap="round" stroke-dasharray="4.6 3.8"/><path d="M291.0 93.0L293.2 85.1" stroke="#0000d0" stroke-width="2.5" stroke-linecap="round"/><path d="M301.1 84.0L303.8 77.7" stroke="#d01c1c" stroke-width="1.7" stroke-linecap="round" stroke-dasharray="4.6 3.8"/><path d="M290.2 97.3L292.9 86.2" stroke="#28b8b0" stroke-width="1.7" stroke-linecap="round" stroke-dasharray="4.6 3.8"/><path d="M270.2 71.5L272.9 93.7" stroke="#d8d860" stroke-width="1.2" stroke-linecap="round"/><path d="M272.9 93.7h0" stroke="#b0b840" stroke-width="2" stroke-linecap="round"/><path d="M319.5 85.8L322.1 93.2" stroke="#0000d0" stroke-width="2.5" stroke-linecap="round"/><path d="M338.1 65.7L340.8 83.4" stroke="#555555" stroke-width="0.8" stroke-linecap="round"/><path d="M340.8 83.4h0" stroke="#202020" stroke-width="2" stroke-linecap="round"/><path d="M323.5 55.3L326.7 79.7" stroke="#b040b0" stroke-width="0.9" stroke-linecap="round"/><path d="M326.7 79.7h0" stroke="#901090" stroke-width="2" stroke-linecap="round"/><path d="M285.6 86.4L288.2 79.1" stroke="#555555" stroke-width="0.8" stroke-linecap="round"/><path d="M288.2 79.1h0" stroke="#202020" stroke-width="2" stroke-linecap="round"/><path d="M280.5 64.5L283.0 82.0" stroke="#0000d0" stroke-width="2.5" stroke-linecap="round"/><path d="M309.0 78.7L311.6 83.4" stroke="#d01c1c" stroke-width="1.7" stroke-linecap="round" stroke-dasharray="4.6 3.8"/><path d="M293.9 91.8L296.5 73.0" stroke="#d8d860" stroke-width="1.2" stroke-linecap="round"/><path d="M296.5 73.0h0" stroke="#b0b840" stroke-width="2" stroke-linecap="round"/><path d="M340.1 84.6L342.7 74.3" stroke="#28b8b0" stroke-width="1.7" stroke-linecap="round" stroke-dasharray="4.6 3.8"/><path d="M296.0 60.0L298.5 78.9" stroke="#0000d0" stroke-width="2.5" stroke-linecap="round"/><path d="M304.0 73.8L306.6 89.8" stroke="#555555" stroke-width="0.8" stroke-linecap="round"/><path d="M306.6 89.8h0" stroke="#202020" stroke-width="2" stroke-linecap="round"/><path d="M258.5 81.0L261.0 64.9" stroke="#d01c1c" stroke-width="1.7" stroke-linecap="round" stroke-dasharray="4.6 3.8"/><path d="M326.7 79.7L329.4 80.0" stroke="#b040b0" stroke-width="0.9" stroke-linecap="round"/><path d="M329.4 80.0h0" stroke="#901090" stroke-width="2" stroke-linecap="round"/><path d="M299.1 83.7L301.7 88.3" stroke="#d8d860" stroke-width="1.2" stroke-linecap="round"/><path d="M301.7 88.3h0" stroke="#b0b840" stroke-width="2" stroke-linecap="round"/><path d="M277.1 82.3L279.7 76.5" stroke="#28b8b0" stroke-width="1.7" stroke-linecap="round" stroke-dasharray="4.6 3.8"/><path d="M254.1 71.5L256.8 74.2" stroke="#555555" stroke-width="0.8" stroke-linecap="round"/><path d="M256.8 74.2h0" stroke="#202020" stroke-width="2" stroke-linecap="round"/><path d="M274.9 98.0L277.5 64.0" stroke="#d01c1c" stroke-width="1.7" stroke-linecap="round" stroke-dasharray="4.6 3.8"/><path d="M260.1 93.9L265.0 97.1" stroke="#b040b0" stroke-width="0.9" stroke-linecap="round"/><path d="M265.0 97.1h0" stroke="#901090" stroke-width="2" stroke-linecap="round"/><path d="M277.8 79.9L280.4 87.4" stroke="#555555" stroke-width="0.8" stroke-linecap="round"/><path d="M280.4 87.4h0" stroke="#202020" stroke-width="2" stroke-linecap="round"/><path d="M337.9 63.0L340.6 56.4" stroke="#e01818" stroke-width="2.5" stroke-linecap="round"/><path d="M295.2 83.7L297.9 82.4" stroke="#b040b0" stroke-width="0.9" stroke-linecap="round"/><path d="M297.9 82.4h0" stroke="#901090" stroke-width="2" stroke-linecap="round"/><path d="M308.6 83.5L311.2 88.4" stroke="#28b8b0" stroke-width="1.7" stroke-linecap="round" stroke-dasharray="4.6 3.8"/><path d="M306.7 90.2L309.3 72.4" stroke="#007000" stroke-width="2.5" stroke-linecap="round"/><path d="M283.6 87.8L286.2 81.5" stroke="#187818" stroke-width="1.6" stroke-linecap="round" stroke-dasharray="4.6 3.8"/><path d="M317.2 79.1L319.8 89.3" stroke="#007000" stroke-width="2.5" stroke-linecap="round"/><path d="M309.9 78.7L312.5 81.7" stroke="#187818" stroke-width="1.6" stroke-linecap="round" stroke-dasharray="4.6 3.8"/><path d="M306.6 89.8L309.2 84.9" stroke="#555555" stroke-width="0.8" stroke-linecap="round"/><path d="M309.2 84.9h0" stroke="#202020" stroke-width="2" stroke-linecap="round"/><path d="M311.0 68.6L313.6 64.0" stroke="#b040b0" stroke-width="0.9" stroke-linecap="round"/><path d="M313.6 64.0h0" stroke="#901090" stroke-width="2" stroke-linecap="round"/><path d="M282.8 88.8L285.4 81.0" stroke="#d01c1c" stroke-width="1.7" stroke-linecap="round" stroke-dasharray="4.6 3.8"/><path d="M327.7 90.3L330.3 81.9" stroke="#e01818" stroke-width="2.5" stroke-linecap="round"/><path d="M273.1 89.3L275.8 72.9" stroke="#187818" stroke-width="1.6" stroke-linecap="round" stroke-dasharray="4.6 3.8"/><path d="M303.4 78.4L306.0 78.3" stroke="#28b8b0" stroke-width="1.7" stroke-linecap="round" stroke-dasharray="4.6 3.8"/><path d="M262.4 80.3L265.0 76.7" stroke="#d8d860" stroke-width="1.2" stroke-linecap="round"/><path d="M265.0 76.7h0" stroke="#b0b840" stroke-width="2" stroke-linecap="round"/><path d="M304.4 98.0L307.0 83.3" stroke="#d8d860" stroke-width="1.2" stroke-linecap="round"/><path d="M307.0 83.3h0" stroke="#b0b840" stroke-width="2" stroke-linecap="round"/><path d="M286.2 81.5L288.9 72.3" stroke="#187818" stroke-width="1.6" stroke-linecap="round" stroke-dasharray="4.6 3.8"/><path d="M253.5 86.3L256.1 73.9" stroke="#28b8b0" stroke-width="1.7" stroke-linecap="round" stroke-dasharray="4.6 3.8"/><path d="M309.0 90.2L311.6 74.0" stroke="#0000d0" stroke-width="2.5" stroke-linecap="round"/><path d="M334.6 87.1L337.2 81.2" stroke="#b040b0" stroke-width="0.9" stroke-linecap="round"/><path d="M337.2 81.2h0" stroke="#901090" stroke-width="2" stroke-linecap="round"/><path d="M285.5 78.0L288.0 84.0" stroke="#0000d0" stroke-width="2.5" stroke-linecap="round"/><path d="M288.0 84.0L291.0 93.0" stroke="#0000d0" stroke-width="2.5" stroke-linecap="round"/><path d="M307.0 83.3L309.6 84.6" stroke="#d8d860" stroke-width="1.2" stroke-linecap="round"/><path d="M309.6 84.6h0" stroke="#b0b840" stroke-width="2" stroke-linecap="round"/><path d="M295.9 91.4L298.5 71.4" stroke="#d01c1c" stroke-width="1.7" stroke-linecap="round" stroke-dasharray="4.6 3.8"/><path d="M311.6 83.4L314.3 90.2" stroke="#d01c1c" stroke-width="1.7" stroke-linecap="round" stroke-dasharray="4.6 3.8"/><path d="M312.5 81.7L315.1 95.1" stroke="#187818" stroke-width="1.6" stroke-linecap="round" stroke-dasharray="4.6 3.8"/><path d="M274.5 85.8L277.1 82.3" stroke="#28b8b0" stroke-width="1.7" stroke-linecap="round" stroke-dasharray="4.6 3.8"/><path d="M332.5 99.7L335.3 33.9" stroke="#e01818" stroke-width="2.5" stroke-linecap="round"/><path d="M321.7 88.5L324.4 71.9" stroke="#28b8b0" stroke-width="1.7" stroke-linecap="round" stroke-dasharray="4.6 3.8"/><path d="M319.5 83.9L322.1 76.4" stroke="#d01c1c" stroke-width="1.7" stroke-linecap="round" stroke-dasharray="4.6 3.8"/><path d="M327.7 95.1L330.3 79.0" stroke="#007000" stroke-width="2.5" stroke-linecap="round"/><path d="M261.0 64.9L264.4 83.8" stroke="#d01c1c" stroke-width="1.7" stroke-linecap="round" stroke-dasharray="4.6 3.8"/><path d="M299.4 89.8L302.0 86.2" stroke="#187818" stroke-width="1.6" stroke-linecap="round" stroke-dasharray="4.6 3.8"/><path d="M288.9 72.3L291.5 79.0" stroke="#187818" stroke-width="1.6" stroke-linecap="round" stroke-dasharray="4.6 3.8"/><path d="M256.5 82.3L258.5 81.0" stroke="#d01c1c" stroke-width="1.7" stroke-linecap="round" stroke-dasharray="4.6 3.8"/><path d="M250.8 75.9L253.5 86.3" stroke="#28b8b0" stroke-width="1.7" stroke-linecap="round" stroke-dasharray="4.6 3.8"/><path d="M317.8 79.8L320.4 79.6" stroke="#187818" stroke-width="1.6" stroke-linecap="round" stroke-dasharray="4.6 3.8"/><path d="M330.6 88.5L333.2 87.8" stroke="#d8d860" stroke-width="1.2" stroke-linecap="round"/><path d="M333.2 87.8h0" stroke="#b0b840" stroke-width="2" stroke-linecap="round"/><path d="M309.2 84.9L311.9 75.7" stroke="#555555" stroke-width="0.8" stroke-linecap="round"/><path d="M311.9 75.7h0" stroke="#202020" stroke-width="2" stroke-linecap="round"/><path d="M338.8 86.6L341.4 84.9" stroke="#187818" stroke-width="1.6" stroke-linecap="round" stroke-dasharray="4.6 3.8"/><path d="M251.8 74.8L254.5 83.5" stroke="#d8d860" stroke-width="1.2" stroke-linecap="round"/><path d="M254.5 83.5h0" stroke="#b0b840" stroke-width="2" stroke-linecap="round"/><path d="M328.0 79.0L330.6 88.5" stroke="#d8d860" stroke-width="1.2" stroke-linecap="round"/><path d="M330.6 88.5h0" stroke="#b0b840" stroke-width="2" stroke-linecap="round"/><path d="M314.9 73.4L317.5 80.3" stroke="#d8d860" stroke-width="1.2" stroke-linecap="round"/><path d="M317.5 80.3h0" stroke="#b0b840" stroke-width="2" stroke-linecap="round"/><path d="M280.7 87.6L283.4 81.6" stroke="#d8d860" stroke-width="1.2" stroke-linecap="round"/><path d="M283.4 81.6h0" stroke="#b0b840" stroke-width="2" stroke-linecap="round"/><path d="M303.8 77.7L306.4 90.0" stroke="#d01c1c" stroke-width="1.7" stroke-linecap="round" stroke-dasharray="4.6 3.8"/><path d="M296.5 73.0L299.1 83.7" stroke="#d8d860" stroke-width="1.2" stroke-linecap="round"/><path d="M299.1 83.7h0" stroke="#b0b840" stroke-width="2" stroke-linecap="round"/><path d="M339.9 68.5L342.5 78.9" stroke="#b040b0" stroke-width="0.9" stroke-linecap="round"/><path d="M342.5 78.9h0" stroke="#901090" stroke-width="2" stroke-linecap="round"/><path d="M264.0 92.4L266.6 88.4" stroke="#28b8b0" stroke-width="1.7" stroke-linecap="round" stroke-dasharray="4.6 3.8"/></g><text x="27.5" y="263" font-size="10.2" text-anchor="middle">40</text><text x="80.0" y="263" font-size="10.2" text-anchor="middle">60</text><text x="132.5" y="263" font-size="10.2" text-anchor="middle">80</text><text x="185.0" y="263" font-size="10.2" text-anchor="middle">100</text><text x="237.5" y="263" font-size="10.2" text-anchor="middle">120</text><text x="290.0" y="263" font-size="10.2" text-anchor="middle">140</text><text x="342.5" y="263" font-size="10.2" text-anchor="middle">160</text><text x="23.5" y="254.9" font-size="10.3" text-anchor="end">0</text><text x="23.5" y="192.9" font-size="10.3" text-anchor="end">2</text><text x="23.5" y="130.9" font-size="10.3" text-anchor="end">4</text><text x="23.5" y="68.9" font-size="10.3" text-anchor="end">6</text><text x="23.5" y="6.9" font-size="10.3" text-anchor="end">8</text><text x="185" y="277.5" font-size="10.5" text-anchor="middle" textLength="234" lengthAdjust="spacingAndGlyphs">Attenuation inserted (dB) @ 0 dBm output power</text><text transform="translate(7.5 128) rotate(-90)" x="0" y="0" font-size="10.3" text-anchor="middle" textLength="142" lengthAdjust="spacingAndGlyphs">σ of measured amplitude (dB)</text><rect x="37.5" y="11.5" width="125" height="136" fill="#fff" stroke="#6a6a6a" stroke-width="1"/><path d="M42.5 21.5H67.8" stroke="#0000d0" stroke-width="2.6" fill="none"/><text x="72.4" y="24.60" font-size="10.1" textLength="77.1" lengthAdjust="spacingAndGlyphs">MPVNA, 0.8 ms</text><path d="M42.5 36.0H67.8" stroke="#007000" stroke-width="2.6" fill="none"/><text x="72.4" y="39.05" font-size="10.1" textLength="82.1" lengthAdjust="spacingAndGlyphs">MPVNA, 13.1 ms</text><path d="M42.5 50.5H67.8" stroke="#e01818" stroke-width="2.6" fill="none"/><text x="72.4" y="53.50" font-size="10.1" textLength="82.1" lengthAdjust="spacingAndGlyphs">MPVNA, 52.4 ms</text><path d="M42.5 65.0H67.8" stroke="#187818" stroke-width="1.7" stroke-dasharray="5 3.6" fill="none"/><text x="72.4" y="67.95" font-size="10.1" textLength="59.3" lengthAdjust="spacingAndGlyphs">8364A,10 Hz</text><path d="M42.5 79.5H67.8" stroke="#d01c1c" stroke-width="1.7" stroke-dasharray="5 3.6" fill="none"/><text x="72.4" y="82.40" font-size="10.1" textLength="65.2" lengthAdjust="spacingAndGlyphs">8364A,100 Hz</text><path d="M42.5 94.0H67.8" stroke="#28b8b0" stroke-width="1.7" stroke-dasharray="5 3.6" fill="none"/><text x="72.4" y="96.85" font-size="10.1" textLength="70.9" lengthAdjust="spacingAndGlyphs">8364A,1000 Hz</text><path d="M42.5 108.5H67.8" stroke="#b860b8" stroke-width="1.1" fill="none"/><circle cx="55" cy="108.5" r="1.1" fill="#801080"/><text x="72.4" y="111.30" font-size="10.1" textLength="57.3" lengthAdjust="spacingAndGlyphs">ZNB8,10 Hz</text><path d="M42.5 123.0H67.8" stroke="#d0e070" stroke-width="1.4" fill="none"/><circle cx="55" cy="123.0" r="1.1" fill="#90a030"/><text x="72.4" y="125.75" font-size="10.1" textLength="63.1" lengthAdjust="spacingAndGlyphs">ZNB8,100 Hz</text><path d="M42.5 137.5H67.8" stroke="#606060" stroke-width="1.0" fill="none"/><circle cx="55" cy="137.5" r="1.1" fill="#202020"/><text x="72.4" y="140.20" font-size="10.1" textLength="68.6" lengthAdjust="spacingAndGlyphs">ZNB8,1000 Hz</text></svg></body></html>
